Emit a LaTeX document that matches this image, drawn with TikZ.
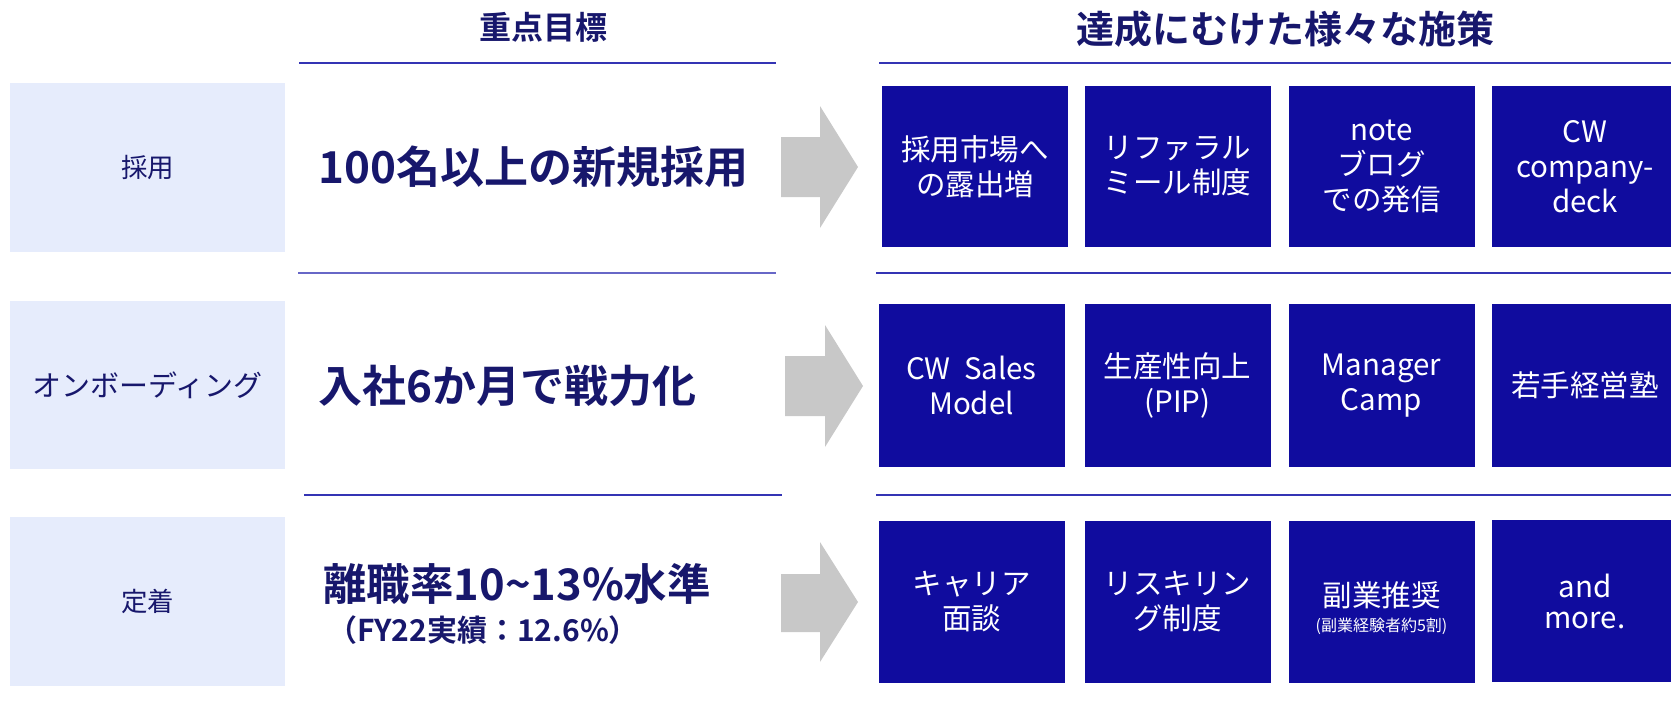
\documentclass[tikz,border=0pt]{standalone}
\usepackage{fontspec}
\setmainfont{Noto Sans CJK JP}[BoldFont={Noto Sans CJK JP Bold}]
\definecolor{navy}{HTML}{17176C}
\definecolor{boxblue}{HTML}{100C9E}
\definecolor{lightbox}{HTML}{E6ECFC}
\definecolor{lineblue}{HTML}{3434B4}
\definecolor{arrowgray}{HTML}{C8C8C8}
\begin{document}
\begin{tikzpicture}[x=1pt,y=-1pt,
  catbox/.style={fill=lightbox, inner sep=0pt, minimum width=275pt, minimum height=169pt,
    text=navy, font=\fontsize{26.5}{30}\selectfont},
  goal/.style={anchor=west, inner sep=0pt, text=navy, font=\bfseries\fontsize{44}{50}\selectfont},
  goalsub/.style={anchor=west, inner sep=0pt, text=navy, font=\bfseries\fontsize{30}{34}\selectfont},
  head/.style={inner sep=0pt, text=navy, font=\bfseries\fontsize{32}{36}\selectfont},
  measure/.style={fill=boxblue, inner sep=0pt, minimum width=186pt, minimum height=162pt,
    text=white, align=center, font=\fontsize{29.5}{35}\selectfont},
  rule/.style={draw=lineblue, line width=2pt},
  arrowshape/.style={fill=arrowgray, draw=none}]
\useasboundingbox (0,0) rectangle (1671,702);
\clip (0,0) rectangle (1671,702);

% headers
\node[head] (h1) at (543,27) {重点目標};
\node[head, font=\bfseries\fontsize{38}{42}\selectfont] (h2) at (1285,29) {達成にむけた様々な施策};

% rules
\coordinate (l1a) at (299,63); \coordinate (l1b) at (776,63);
\coordinate (r1a) at (879,63); \coordinate (r1b) at (1671,63);
\coordinate (l2a) at (298,273); \coordinate (l2b) at (776,273);
\coordinate (r2a) at (876,273); \coordinate (r2b) at (1671,273);
\coordinate (l3a) at (304,495); \coordinate (l3b) at (782,495);
\coordinate (r3a) at (876,495); \coordinate (r3b) at (1671,495);
\draw[rule] (l1a) -- (l1b);
\draw[rule] (r1a) -- (r1b);
\draw[rule, draw=lineblue!75] (l2a) -- (l2b);
\draw[rule] (r2a) -- (r2b);
\draw[rule] (l3a) -- (l3b);
\draw[rule] (r3a) -- (r3b);

% category boxes
\node[catbox] (c1) at (147.5,167.5) {採用};
\node[catbox, minimum height=168pt, font=\fontsize{29}{32}\selectfont] (c2) at (147.5,385) {オンボーディング};
\node[catbox] (c3) at (147.5,601.5) {定着};

% goals
\node[goal] (g1) at (318,167) {100名以上の新規採用};
\node[goal] (g2) at (318,386) {入社6か月で戦力化};
\node[goal, font=\bfseries\fontsize{43.5}{50}\selectfont] (g3) at (323,584) {離職率10\textasciitilde13\%水準};
\node[goalsub] (g3s) at (327,630) {（FY22実績：12.6\%）};

% arrows
\fill[arrowshape] (781,137) -- (820,137) -- (820,106) -- (858,167) -- (820,228) -- (820,197) -- (781,197) -- cycle;
\fill[arrowshape] (785,356) -- (825,356) -- (825,325) -- (863,386) -- (825,447) -- (825,416) -- (785,416) -- cycle;
\fill[arrowshape] (781,574) -- (820,574) -- (820,542) -- (858,602) -- (820,662) -- (820,632) -- (781,632) -- cycle;

% measures row 1
\node[measure, minimum height=161pt] (m11) at (975,166.5) {採用市場へ\\の露出増};
\node[measure, minimum height=161pt] (m12) at (1177.5,166.5) {リファラル\\ミール制度};
\node[measure, minimum height=161pt] (m13) at (1381.5,166.5) {note\\ブログ\\での発信};
\node[measure, minimum height=161pt] (m14) at (1585,166.5) {CW\\company-\\deck};

% measures row 2
\node[measure, minimum height=163pt] (m21) at (971.5,385.5) {CW\hspace{0.45em}Sales\\Model};
\node[measure, minimum height=163pt] (m22) at (1177.5,385.5) {生産性向上\\(PIP)};
\node[measure, minimum height=163pt] (m23) at (1381.5,385.5) {Manager\\Camp};
\node[measure, minimum height=163pt] (m24) at (1585,385.5) {若手経営塾};

% measures row 3
\node[measure] (m31) at (971.5,602) {キャリア\\面談};
\node[measure] (m32) at (1177.5,602) {リスキリン\\グ制度};
\node[measure] (m33) at (1381.5,602) {\rule{0pt}{37pt}副業推奨\\[-10pt]{\fontsize{16}{18}\selectfont (副業経験者約5割)}};
\node[measure, font=\fontsize{29.5}{31}\selectfont] (m34) at (1585,601) {and\\more.};
\end{tikzpicture}
\end{document}
